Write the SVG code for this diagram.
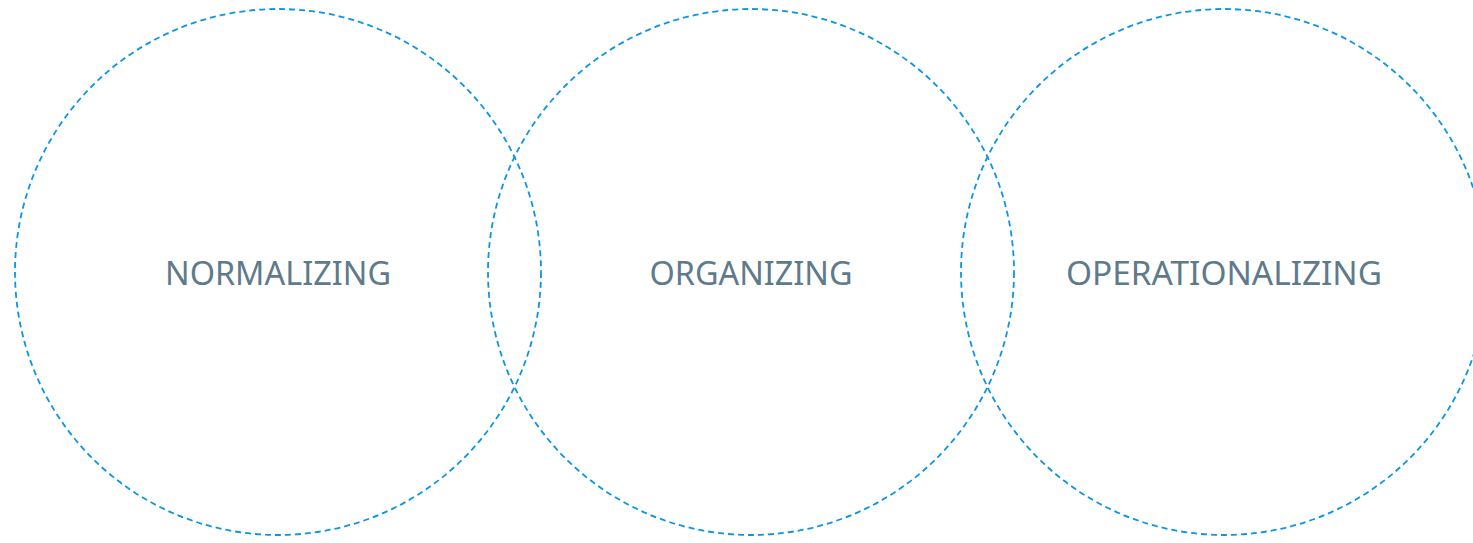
<svg xmlns="http://www.w3.org/2000/svg" width="1473" height="543" viewBox="0 0 1473 543">
<style>
.c{fill:none;stroke:#0b96e5;stroke-width:1.8;stroke-dasharray:6 4}
.t{font-family:"Noto Sans","Open Sans",sans-serif;font-size:32px;fill:#5e7a8b;text-anchor:middle}
</style>
<rect width="1473" height="543" fill="#fff"/>
<g id="normalizing">
<circle class="c" cx="278" cy="272" r="263"/>
<text class="t" x="278" y="285" textLength="226" lengthAdjust="spacingAndGlyphs">NORMALIZING</text>
</g>
<g id="organizing">
<circle class="c" cx="751" cy="272" r="263"/>
<text class="t" x="751" y="285" textLength="203" lengthAdjust="spacingAndGlyphs">ORGANIZING</text>
</g>
<g id="operationalizing">
<circle class="c" cx="1224" cy="272" r="263"/>
<text class="t" x="1224" y="285" textLength="316" lengthAdjust="spacingAndGlyphs">OPERATIONALIZING</text>
</g>
<g id="connectors"></g>
</svg>
